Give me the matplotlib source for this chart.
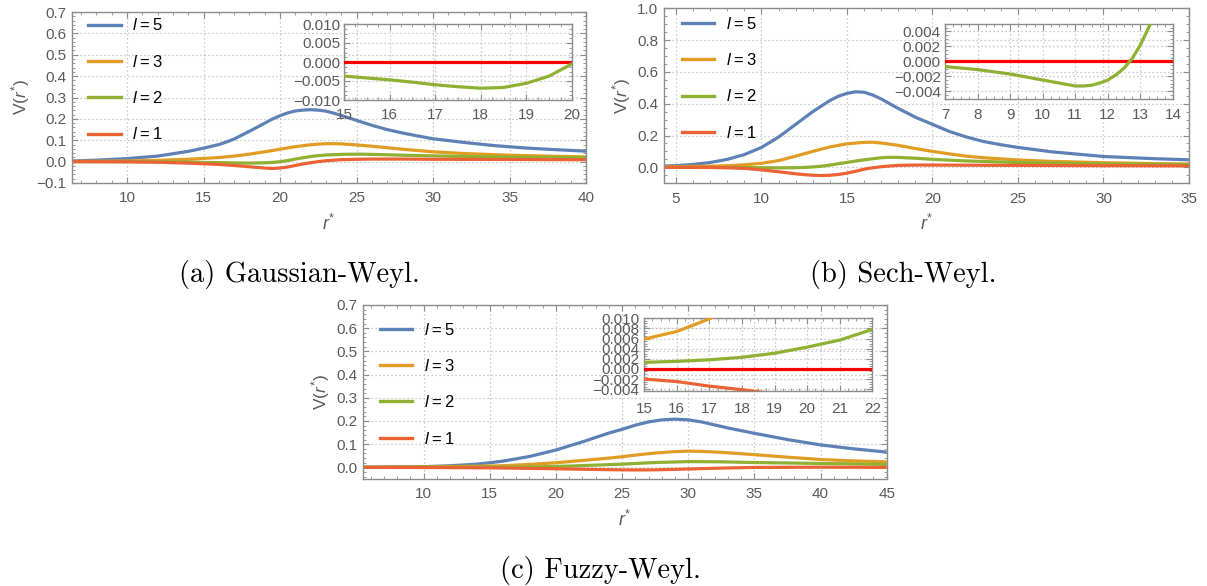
import matplotlib
matplotlib.use('Agg')
import matplotlib.pyplot as plt
from matplotlib.ticker import MultipleLocator, FuncFormatter
from matplotlib.lines import Line2D

plt.rcParams['font.family'] = ['Liberation Sans', 'DejaVu Sans']
plt.rcParams['mathtext.fontset'] = 'custom'
plt.rcParams['mathtext.rm'] = 'Liberation Sans'
plt.rcParams['mathtext.it'] = 'Liberation Sans:italic'

# ---------------- data ----------------
series_labels = ['$l$\u2009=\u20095', '$l$\u2009=\u20093', '$l$\u2009=\u20092', '$l$\u2009=\u20091']

# (a) Gaussian-Weyl
ga_r5 = [6.4, 8, 10, 12, 14, 15, 16, 16.5, 17, 17.5, 18, 18.5, 19, 19.5, 20, 20.5, 21, 21.5, 22, 22.5, 23, 23.5, 24, 25, 26, 27, 28, 29, 30, 32, 34, 36, 38, 40]
ga_v5 = [0.003, 0.007, 0.014, 0.026, 0.048, 0.063, 0.080, 0.092, 0.106, 0.124, 0.142, 0.161, 0.180, 0.199, 0.215, 0.228, 0.237, 0.241, 0.243, 0.241, 0.236, 0.227, 0.216, 0.193, 0.170, 0.150, 0.134, 0.120, 0.107, 0.090, 0.075, 0.064, 0.056, 0.049]
ga_r3 = [6.4, 10, 12, 14, 15, 16, 17, 18, 19, 20, 21, 22, 22.5, 23, 23.5, 24, 25, 26, 27, 28, 30, 32, 35, 38, 40]
ga_v3 = [0.001, 0.003, 0.006, 0.011, 0.015, 0.019, 0.026, 0.035, 0.046, 0.058, 0.070, 0.079, 0.082, 0.084, 0.084, 0.083, 0.078, 0.072, 0.065, 0.058, 0.046, 0.038, 0.030, 0.025, 0.022]
ga_r2 = [6.4, 10, 12, 14, 15, 16, 17, 18, 19, 19.5, 20, 20.5, 21, 21.5, 22, 22.5, 23, 24, 25, 26, 27, 28, 30, 32, 35, 38, 40]
ga_v2 = [0.0, 0.0, 0.0, -0.002, -0.0037, -0.0047, -0.006, -0.0069, -0.0056, -0.0037, -0.0005, 0.005, 0.012, 0.018, 0.024, 0.028, 0.031, 0.034, 0.035, 0.034, 0.032, 0.030, 0.027, 0.024, 0.021, 0.019, 0.018]
ga_r1 = [6.4, 10, 12, 14, 15, 16, 17, 18, 18.5, 19, 19.5, 20, 20.5, 21, 21.5, 22, 22.5, 23, 24, 25, 26, 28, 30, 35, 40]
ga_v1 = [0.0, -0.001, -0.003, -0.007, -0.010, -0.013, -0.018, -0.024, -0.027, -0.030, -0.032, -0.030, -0.025, -0.018, -0.011, -0.005, 0.0, 0.004, 0.009, 0.011, 0.012, 0.012, 0.011, 0.010, 0.009]
ga_inset_r2 = [15, 15.5, 16, 16.5, 17, 17.5, 18, 18.5, 19, 19.5, 20]
ga_inset_v2 = [-0.0037, -0.0042, -0.0047, -0.0053, -0.0060, -0.0065, -0.0069, -0.0067, -0.0056, -0.0037, -0.0005]

# (b) Sech-Weyl
sw_r5 = [4.3, 5, 6, 7, 8, 9, 10, 11, 12, 13, 14, 14.5, 15, 15.5, 16, 16.5, 17, 18, 19, 20, 21, 22, 23, 24, 25, 27, 30, 33, 35]
sw_v5 = [0.008, 0.010, 0.018, 0.030, 0.050, 0.080, 0.125, 0.190, 0.270, 0.350, 0.420, 0.447, 0.465, 0.475, 0.472, 0.455, 0.430, 0.370, 0.315, 0.270, 0.225, 0.190, 0.162, 0.142, 0.125, 0.097, 0.068, 0.054, 0.047]
sw_r3 = [4.3, 5, 7, 8, 9, 10, 11, 12, 13, 14, 15, 16, 16.5, 17, 18, 19, 20, 21, 22, 23, 25, 27, 30, 33, 35]
sw_v3 = [0.003, 0.004, 0.007, 0.010, 0.016, 0.025, 0.042, 0.070, 0.100, 0.128, 0.148, 0.157, 0.158, 0.153, 0.138, 0.118, 0.100, 0.084, 0.070, 0.060, 0.046, 0.037, 0.029, 0.023, 0.021]
sw_r2 = [4.3, 7, 8, 9, 10, 11, 12, 12.5, 13, 13.5, 14, 15, 16, 17, 17.5, 18, 19, 20, 22, 25, 30, 35]
sw_v2 = [0.0, -0.0007, -0.0011, -0.0017, -0.0025, -0.0033, -0.0025, -0.0009, 0.0022, 0.0068, 0.014, 0.031, 0.047, 0.060, 0.063, 0.062, 0.057, 0.050, 0.040, 0.030, 0.021, 0.017]
sw_r1 = [4.3, 7, 8, 9, 10, 11, 12, 12.5, 13, 13.5, 14, 14.5, 15, 15.5, 16, 16.5, 17, 18, 19, 20, 25, 30, 35]
sw_v1 = [0.0, -0.001, -0.003, -0.007, -0.016, -0.028, -0.041, -0.046, -0.050, -0.052, -0.050, -0.045, -0.037, -0.025, -0.012, -0.003, 0.004, 0.012, 0.014, 0.014, 0.012, 0.010, 0.009]
sw_inset_r2 = [7, 8, 9, 10, 10.5, 11, 11.25, 11.5, 11.75, 12, 12.25, 12.5, 12.75, 13, 13.25, 13.5]
sw_inset_v2 = [-0.0007, -0.0011, -0.0017, -0.0025, -0.0029, -0.0033, -0.0033, -0.0032, -0.0029, -0.0025, -0.0018, -0.0009, 0.0004, 0.0022, 0.0045, 0.0068]

# (c) Fuzzy-Weyl
fw_r5 = [5.4, 8, 10, 12, 14, 15, 16, 18, 20, 22, 24, 25, 26, 27, 28, 29, 30, 31, 32, 33, 35, 37.5, 40, 42.5, 45]
fw_v5 = [0.001, 0.002, 0.003, 0.007, 0.014, 0.020, 0.027, 0.047, 0.075, 0.110, 0.148, 0.164, 0.182, 0.196, 0.205, 0.208, 0.205, 0.196, 0.183, 0.170, 0.147, 0.120, 0.097, 0.080, 0.066]
fw_r3 = [5.4, 10, 15, 16, 17, 18, 20, 22, 24, 25, 26, 27.5, 29, 30, 31, 32.5, 35, 37.5, 40, 42.5, 45]
fw_v3 = [0.0, 0.002, 0.0059, 0.0074, 0.0099, 0.013, 0.020, 0.030, 0.040, 0.046, 0.053, 0.062, 0.068, 0.070, 0.069, 0.065, 0.055, 0.044, 0.034, 0.028, 0.024]
fw_r2 = [5.4, 10, 15, 16, 17, 18, 19, 20, 21, 22, 25, 27.5, 30, 32.5, 35, 40, 45]
fw_v2 = [0.0, 0.0005, 0.0013, 0.0015, 0.0018, 0.0023, 0.0031, 0.0043, 0.0057, 0.0078, 0.014, 0.021, 0.025, 0.024, 0.021, 0.017, 0.013]
fw_r1 = [5.4, 10, 13, 15, 16, 17, 18, 19, 20, 22, 24, 25, 26, 27.5, 30, 32.5, 35, 40, 45]
fw_v1 = [0.0, -0.0005, -0.0013, -0.0020, -0.0025, -0.0034, -0.0041, -0.0049, -0.0058, -0.0080, -0.0098, -0.0105, -0.0110, -0.0105, -0.0070, -0.0030, 0.0, 0.001, 0.0]

colors = ['#5E81B5', '#E19C24', '#8FB131', '#EB6235']
zero_color = '#FF0000'

W, H = 1207, 586
fig = plt.figure(figsize=(W / 100, H / 100), dpi=100)

def rect(l, t, r, b):
    return [l / W, 1 - b / H, (r - l) / W, (b - t) / H]

def fmt(dec):
    def f(v, p):
        if abs(v) < 1e-12:
            v = 0.0
        return f'{v:.{dec}f}'.replace('-', '\u2212')
    return FuncFormatter(f)

GRID = dict(color='#b8b8b8', linestyle=(0, (1, 2.2)), linewidth=0.9)
SPINE = '#8c8c8c'
LABC = '#5a5a5a'
LAB = 11

def style(ax, xmaj, xmin, ymaj, ymin, ydec, xdec=0, xpad=6, ypad=4):
    ax.xaxis.set_major_locator(MultipleLocator(xmaj))
    ax.xaxis.set_minor_locator(MultipleLocator(xmin))
    ax.yaxis.set_major_locator(MultipleLocator(ymaj))
    ax.yaxis.set_minor_locator(MultipleLocator(ymin))
    ax.yaxis.set_major_formatter(fmt(ydec))
    ax.xaxis.set_major_formatter(fmt(xdec))
    ax.tick_params(which='both', direction='in', top=True, right=True, color=SPINE,
                   labelcolor=LABC, labelsize=LAB)
    ax.tick_params(which='major', length=4.5, width=0.8)
    ax.tick_params(which='minor', length=2.3, width=0.6)
    ax.tick_params(axis='x', pad=xpad)
    ax.tick_params(axis='y', pad=ypad)
    for s in ax.spines.values():
        s.set_color(SPINE)
        s.set_linewidth(1.0)
    ax.grid(True, which='major', **GRID)
    ax.set_axisbelow(True)

def main_panel(pos, curves, xlim, ylim, xmaj, ymaj, ymin, leg_anchor):
    ax = fig.add_axes(rect(*pos))
    for (r, v), c in zip(curves, colors):
        ax.plot(r, v, color=c, lw=2.3, solid_capstyle='butt', solid_joinstyle='round')
    ax.set_xlim(*xlim)
    ax.set_ylim(*ylim)
    style(ax, xmaj, 1, ymaj, ymin, 1)
    ax.set_xlabel(r'$r^{*}$', color=LABC, fontsize=13, labelpad=6)
    ax.set_ylabel(r'V($r^{*}$)', color=LABC, fontsize=12.5, labelpad=3)
    handles = [Line2D([], [], color=c, lw=2.4) for c in colors]
    ax.legend(handles, series_labels, loc='upper left', bbox_to_anchor=leg_anchor,
              frameon=False, fontsize=12, handlelength=1.95, handletextpad=0.7,
              labelspacing=1.22, borderpad=0, borderaxespad=0)
    return ax

def inset(pos, curves, xlim, ylim, ymaj, ydec, xpad, ypad):
    ax = fig.add_axes(rect(*pos))
    ax.patch.set_alpha(0.0)
    ax.axhline(0, color=zero_color, lw=2.3, zorder=3)
    for r, v, c in curves:
        ax.plot(r, v, color=c, lw=2.3, zorder=4, solid_joinstyle='round')
    ax.set_xlim(*xlim)
    ax.set_ylim(*ylim)
    style(ax, 1, 0.25, ymaj, ymaj / 4, ydec, xpad=xpad, ypad=ypad)
    return ax

# panel (a)
main_panel((72, 12, 586, 183),
           [(ga_r5, ga_v5), (ga_r3, ga_v3), (ga_r2, ga_v2), (ga_r1, ga_v1)],
           (6.4, 40), (-0.1, 0.7), 5, 0.1, 0.02, (0.0317, 0.968))
inset((344, 24, 572, 100), [(ga_inset_r2, ga_inset_v2, colors[2])],
      (15, 20), (-0.010, 0.010), 0.005, 3, 6, 2.5)

# panel (b)
main_panel((664, 8.3, 1189, 183.2),
           [(sw_r5, sw_v5), (sw_r3, sw_v3), (sw_r2, sw_v2), (sw_r1, sw_v1)],
           (4.3, 35), (-0.1, 1.0), 5, 0.2, 0.05, (0.034, 0.957))
inset((945, 24, 1173, 98.7), [(sw_inset_r2, sw_inset_v2, colors[2])],
      (7, 14), (-0.005, 0.005), 0.002, 3, 7, 3)

# panel (c)
main_panel((362.7, 305, 886.7, 479),
           [(fw_r5, fw_v5), (fw_r3, fw_v3), (fw_r2, fw_v2), (fw_r1, fw_v1)],
           (5.4, 45), (-0.05, 0.7), 5, 0.1, 0.02, (0.033, 0.905))
inset((644.3, 318.3, 872.3, 390.7),
      [(fw_r3, fw_v3, colors[1]), (fw_r2, fw_v2, colors[2]), (fw_r1, fw_v1, colors[3])],
      (15, 22), (-0.0043, 0.0100), 0.002, 3, 8, 3.5)

# captions
cap = dict(ha='center', va='baseline', family='cmr10', fontsize=20.5, color='black')
fig.text(299 / W, 1 - 282 / H, '(a) Gaussian-Weyl.', **cap)
fig.text(903 / W, 1 - 282 / H, '(b) Sech-Weyl.', **cap)
fig.text(600 / W, 1 - 578 / H, '(c) Fuzzy-Weyl.', **cap)

fig.savefig('out.png', dpi=100)
